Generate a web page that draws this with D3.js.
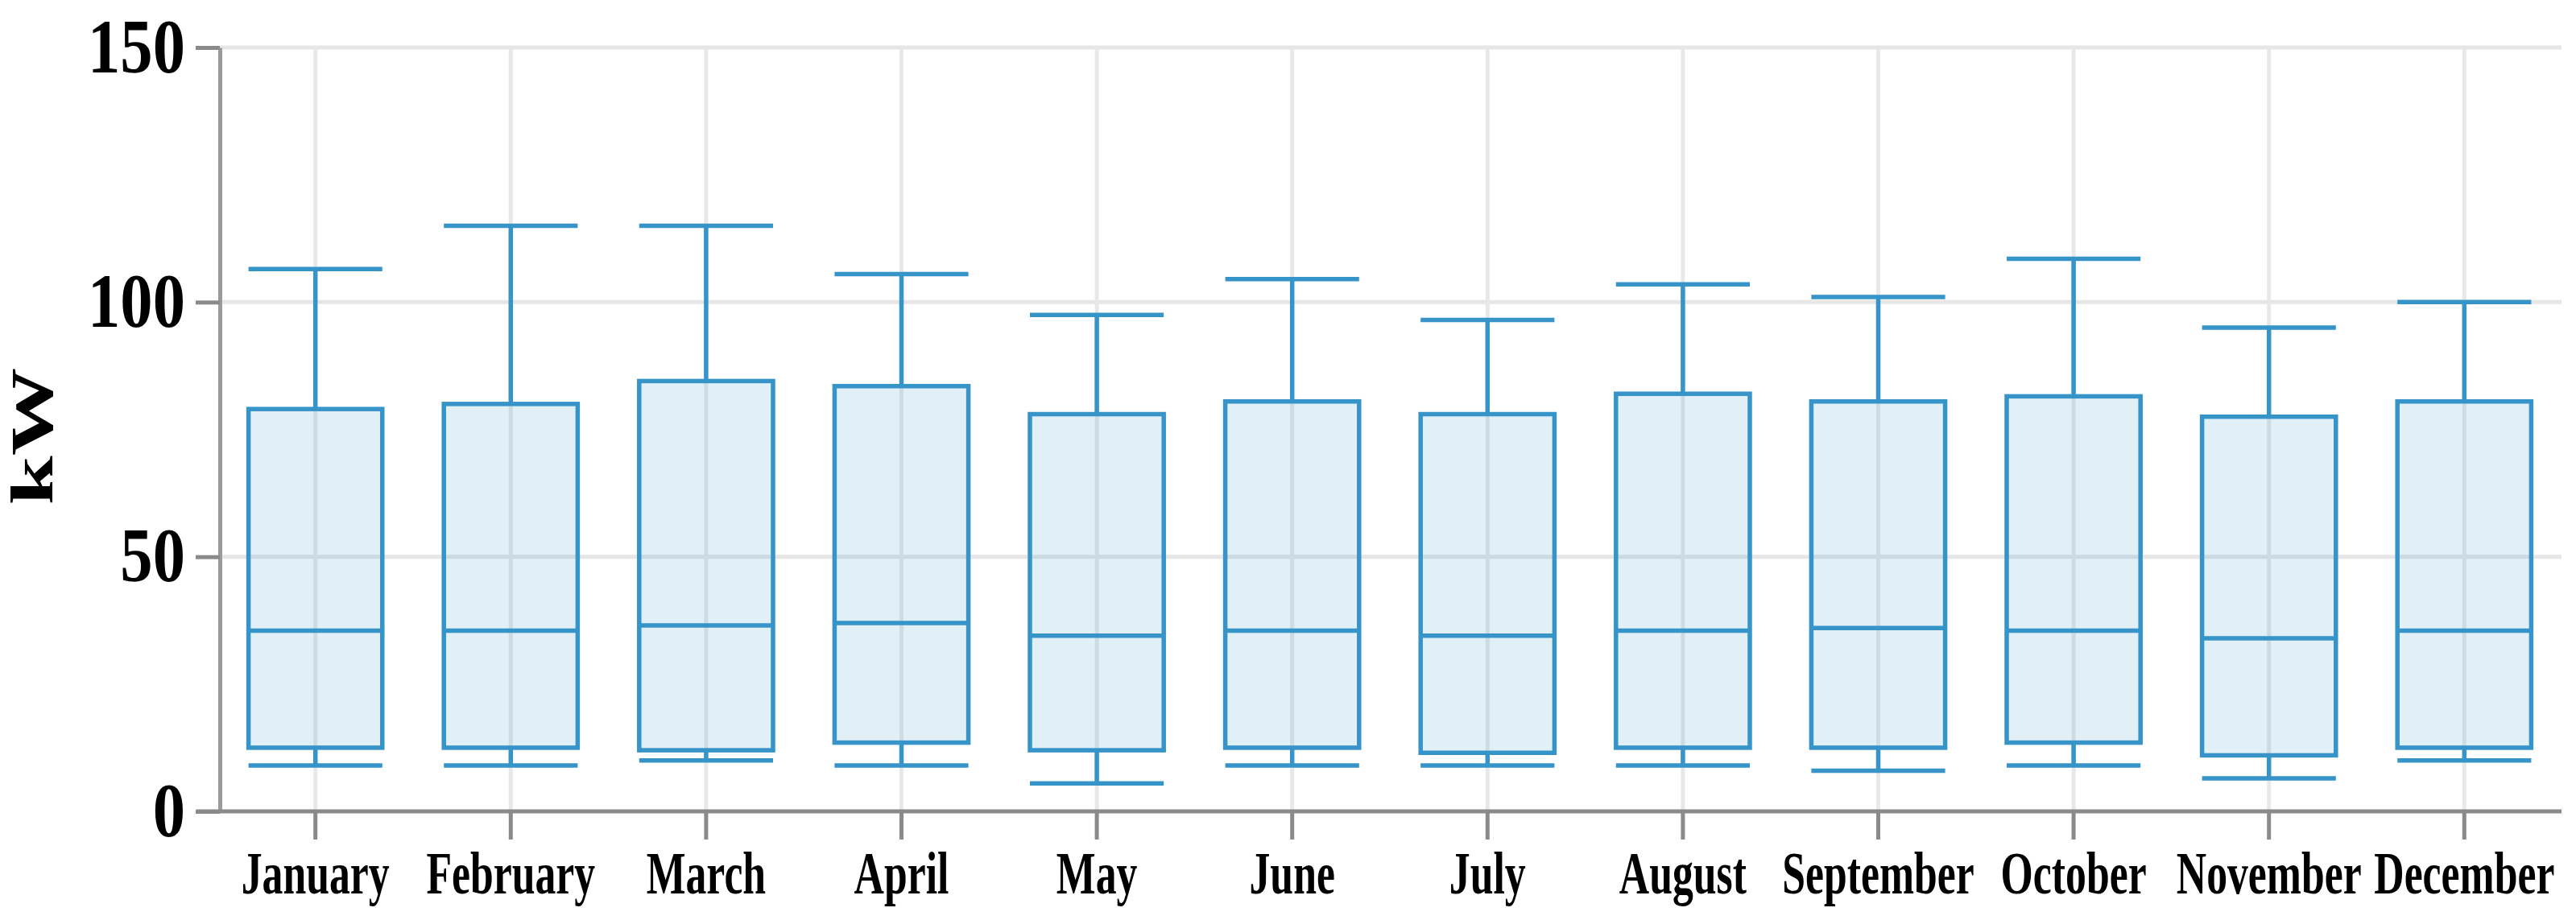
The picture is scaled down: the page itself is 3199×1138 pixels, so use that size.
<!DOCTYPE html>
<html>
<head>
<meta charset="utf-8">
<script src="https://cdn.jsdelivr.net/npm/d3@7"></script>
<style>
  body { margin: 0; background: #ffffff; }
  text { font-family: "Liberation Serif", "Times New Roman", serif; font-weight: bold; fill: #000; }
</style>
</head>
<body>
<svg id="chart" width="3199" height="1138"></svg>
<script>
// ---- data ----
const months = ["January","February","March","April","May","June","July","August","September","October","November","December"];
const minVals    = [9,    9,    10,   9,    5.5,  9,    9,    9,    8,    9,    6.5,  10];
const q1Vals     = [12.5, 12.5, 12,   13.5, 12,   12.5, 11.5, 12.5, 12.5, 13.5, 11,   12.5];
const medianVals = [35.5, 35.5, 36.5, 37,   34.5, 35.5, 34.5, 35.5, 36,   35.5, 34,   35.5];
const q3Vals     = [79,   80,   84.5, 83.5, 78,   80.5, 78,   82,   80.5, 81.5, 77.5, 80.5];
const maxVals    = [106.5,115,  115,  105.5,97.5, 104.5,96.5, 103.5,101,  108.5,95,   100];
const yTicks = [0, 50, 100, 150];
const yLabel = "kW";

// ---- layout ----
const svg = d3.select("#chart");
const x = d3.scaleBand().domain(months).range([271, 3181]).paddingInner(0.315).paddingOuter(0.155);
const y = d3.scaleLinear().domain([0, 150]).range([1008, 59]);
const bw = x.bandwidth();
const cx = m => x(m) + bw / 2;
const blue = "#3694c9";
const sw = 5.5;

// gridlines
svg.append("g").selectAll("line").data(yTicks.filter(t => t > 0)).join("line")
  .attr("x1", 273).attr("x2", 3181)
  .attr("y1", d => y(d)).attr("y2", d => y(d))
  .attr("stroke", "#e6e6e6").attr("stroke-width", 5);
svg.append("g").selectAll("line").data(months).join("line")
  .attr("x1", d => cx(d)).attr("x2", d => cx(d))
  .attr("y1", y(150)).attr("y2", y(0))
  .attr("stroke", "#e8e8e8").attr("stroke-width", 5);

// boxes
const data = months.map((m, i) => ({
  m, min: minVals[i], q1: q1Vals[i], med: medianVals[i], q3: q3Vals[i], max: maxVals[i]
}));
const g = svg.append("g").selectAll("g").data(data).join("g");
g.append("line")
  .attr("x1", d => cx(d.m)).attr("x2", d => cx(d.m))
  .attr("y1", d => y(d.q3)).attr("y2", d => y(d.max))
  .attr("stroke", blue).attr("stroke-width", sw);
g.append("line")
  .attr("x1", d => cx(d.m)).attr("x2", d => cx(d.m))
  .attr("y1", d => y(d.q1)).attr("y2", d => y(d.min))
  .attr("stroke", blue).attr("stroke-width", sw);
g.append("line")
  .attr("x1", d => x(d.m)).attr("x2", d => x(d.m) + bw)
  .attr("y1", d => y(d.max)).attr("y2", d => y(d.max))
  .attr("stroke", blue).attr("stroke-width", sw);
g.append("line")
  .attr("x1", d => x(d.m)).attr("x2", d => x(d.m) + bw)
  .attr("y1", d => y(d.min)).attr("y2", d => y(d.min))
  .attr("stroke", blue).attr("stroke-width", sw);
g.append("rect")
  .attr("x", d => x(d.m)).attr("width", bw)
  .attr("y", d => y(d.q3)).attr("height", d => y(d.q1) - y(d.q3))
  .attr("fill", "rgba(54,148,201,0.15)")
  .attr("stroke", blue).attr("stroke-width", sw);
g.append("line")
  .attr("x1", d => x(d.m)).attr("x2", d => x(d.m) + bw)
  .attr("y1", d => y(d.med)).attr("y2", d => y(d.med))
  .attr("stroke", blue).attr("stroke-width", sw);

// y axis
const yAxis = svg.append("g").attr("transform", "translate(273,0)")
  .call(d3.axisLeft(y).tickValues(yTicks).tickSize(30).tickSizeOuter(0));
yAxis.select(".domain").attr("stroke", "#9a9a9a").attr("stroke-width", 5);
yAxis.selectAll(".tick line").attr("stroke", "#8a8a8a").attr("stroke-width", 5);
yAxis.selectAll(".tick text")
  .attr("x", 0).attr("dy", null)
  .attr("text-anchor", "end")
  .attr("transform", "translate(-43,30) scale(0.84,1)")
  .style("font-size", "96px")
  .style("font-family", "'Liberation Serif','Times New Roman',serif")
  .style("font-weight", "bold").attr("fill", "#000");

// x axis
const xAxis = svg.append("g").attr("transform", `translate(0,${y(0)})`)
  .call(d3.axisBottom(x).tickSize(35).tickSizeOuter(0));
xAxis.select(".domain").remove();
xAxis.append("line").attr("x1", 244).attr("x2", 3181).attr("y1", 0).attr("y2", 0)
  .attr("stroke", "#8a8a8a").attr("stroke-width", 5);
xAxis.selectAll(".tick line").attr("stroke", "#8a8a8a").attr("stroke-width", 5);
xAxis.selectAll(".tick text")
  .attr("y", 0).attr("dy", null)
  .attr("text-anchor", "middle")
  .attr("transform", "translate(0,102) scale(0.69,1)")
  .style("font-size", "75px")
  .style("font-family", "'Liberation Serif','Times New Roman',serif")
  .style("font-weight", "bold").attr("fill", "#000");

// y label
svg.append("text")
  .attr("transform", "translate(65,542) rotate(-90) scale(1.49,1)")
  .attr("text-anchor", "middle")
  .style("font-size", "73.5px")
  .text(yLabel);
</script>
</body>
</html>
